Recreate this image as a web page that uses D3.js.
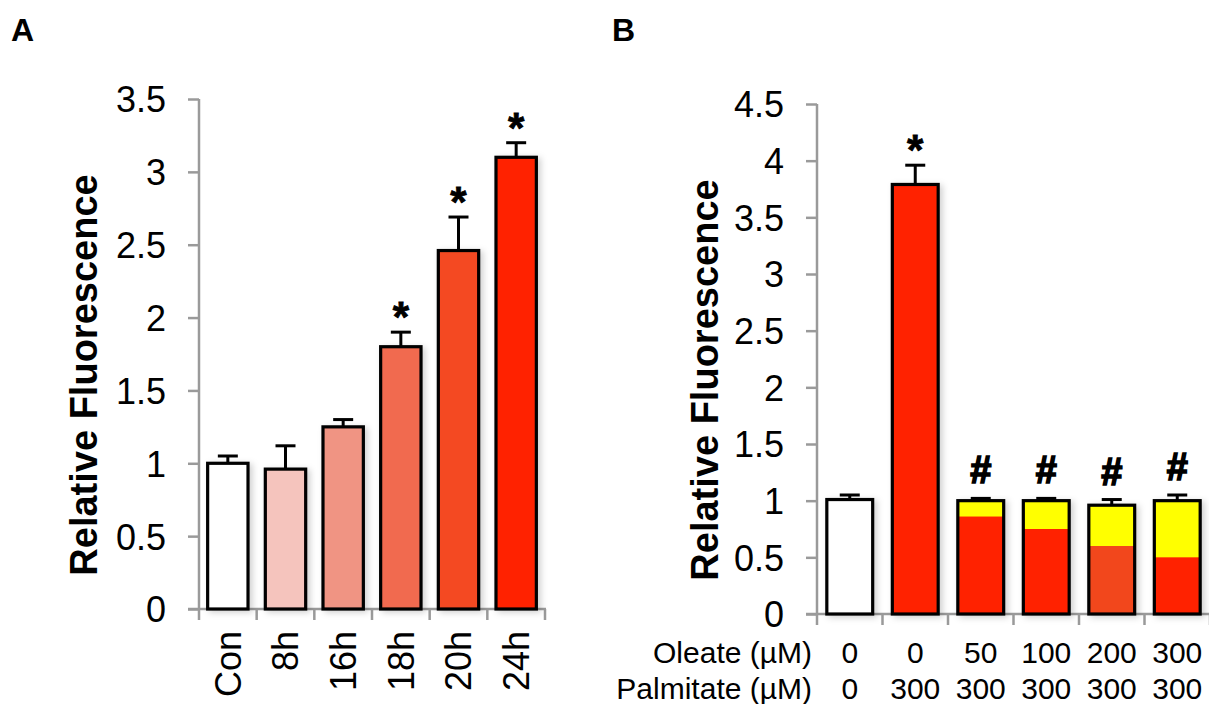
<!DOCTYPE html>
<html>
<head>
<meta charset="utf-8">
<script src="https://cdn.jsdelivr.net/npm/d3@7"></script>
<style>
  body { margin: 0; background: #fff; }
  text { font-family: "Liberation Sans", Arial, sans-serif; fill: #000; }
  .axis path, .axis line { stroke: #9a9a9a; stroke-width: 2.5; }
  .axis text { font-size: 36px; }
  .mark { stroke: #000; }
</style>
</head>
<body>
<svg id="chart"></svg>
<script>
// Panel A: time course
const timeLabels = ["Con", "8h", "16h", "18h", "20h", "24h"];
const timeMeans = [1.0, 0.96, 1.25, 1.80, 2.46, 3.10];
const timeErrors = [0.05, 0.16, 0.05, 0.10, 0.23, 0.10];
const timeMarks = ["", "", "", "*", "*", "*"];
const timeColors = ["#ffffff", "#f5c4bd", "#f09483", "#f16a4f", "#f44a21", "#ff2400"];
const timeTicks = [0, 0.5, 1, 1.5, 2, 2.5, 3, 3.5];

// Panel B: oleate / palmitate
const oleate = ["0", "0", "50", "100", "200", "300"];
const palmitate = ["0", "300", "300", "300", "300", "300"];
const fatMeans = [1.01, 3.79, 1.0, 1.0, 0.96, 1.0];
const fatErrors = [0.04, 0.17, 0.02, 0.02, 0.05, 0.05];
const fatRedPart = [0, 3.79, 0.86, 0.75, 0.60, 0.50];
const fatRedColors = ["#ff2200", "#ff2200", "#ff2200", "#ff2200", "#f2461f", "#ff2200"];
const fatMarks = ["", "*", "#", "#", "#", "#"];
const fatTicks = [0, 0.5, 1, 1.5, 2, 2.5, 3, 3.5, 4, 4.5];

const svg = d3.select("#chart").attr("width", 1209).attr("height", 704);

const defs = svg.append("defs");
defs.append("filter").attr("id", "shadow")
    .attr("x", "-20%").attr("y", "-5%").attr("width", "150%").attr("height", "115%")
    .append("feDropShadow")
    .attr("dx", 3).attr("dy", 2).attr("stdDeviation", 3)
    .attr("flood-color", "#000").attr("flood-opacity", 0.18);

// Panel letters
svg.append("text").attr("x", 11).attr("y", 41).attr("font-size", 32).attr("font-weight", "bold").text("A");
svg.append("text").attr("x", 612).attr("y", 41).attr("font-size", 32).attr("font-weight", "bold").text("B");

// Shared drawing of one panel's frame
function drawFrame(x, y, ticks, axisLeft, axisRight, labelX) {
    const y0 = y(0);
    const g = svg.append("g").attr("class", "axis")
        .attr("transform", `translate(${axisLeft}, 0)`)
        .call(d3.axisLeft(y).tickValues(ticks).tickSize(11).tickSizeOuter(0).tickPadding(22).tickFormat(d3.format("")));
    g.select(".domain").remove();
    g.append("line").attr("x1", 0).attr("x2", 0).attr("y1", y(ticks[ticks.length - 1])).attr("y2", y0);
    g.selectAll(".tick text").attr("dy", "0.36em");

    const xa = svg.append("g").attr("class", "axis");
    xa.append("line").attr("x1", axisLeft - 11).attr("x2", axisRight).attr("y1", y0).attr("y2", y0);
    const bounds = d3.range(x.domain().length + 1).map(i => axisLeft + i * x.step());
    xa.selectAll(".xt").data(bounds).enter().append("line")
        .attr("x1", d => d).attr("x2", d => d).attr("y1", y0).attr("y2", y0 + 11);

    svg.append("text")
        .attr("transform", `translate(${labelX}, ${(y(ticks[ticks.length - 1]) + y0) / 2 + 21}) rotate(-90)`)
        .attr("text-anchor", "middle")
        .attr("font-size", 38).attr("font-weight", "bold")
        .text("Relative Fluorescence");
}

// ---------- Panel A ----------
const xA = d3.scaleBand().domain(timeLabels).range([199, 545]).paddingInner(0.3).paddingOuter(0.15);
const yA = d3.scaleLinear().domain([0, 3.5]).range([609, 99]);
drawFrame(xA, yA, timeTicks, 199, 546, 97);

const barsA = svg.append("g");
barsA.selectAll("rect").data(timeLabels).enter().append("rect")
    .attr("x", d => xA(d))
    .attr("y", (d, i) => yA(timeMeans[i]))
    .attr("width", xA.bandwidth())
    .attr("height", (d, i) => yA(0) - yA(timeMeans[i]))
    .attr("fill", (d, i) => timeColors[i])
    .attr("stroke", "#000").attr("stroke-width", 3.2)
    .attr("filter", "url(#shadow)");

const errA = svg.append("g").attr("stroke", "#000").attr("stroke-width", 3);
timeLabels.forEach((d, i) => {
    const cx = xA(d) + xA.bandwidth() / 2;
    errA.append("line").attr("x1", cx).attr("x2", cx).attr("y1", yA(timeMeans[i])).attr("y2", yA(timeMeans[i] + timeErrors[i]));
    errA.append("line").attr("x1", cx - 10).attr("x2", cx + 10)
        .attr("y1", yA(timeMeans[i] + timeErrors[i])).attr("y2", yA(timeMeans[i] + timeErrors[i]));
    if (timeMarks[i]) {
        svg.append("text").attr("class", "mark").attr("stroke-width", 0.8)
            .attr("x", cx).attr("y", yA(timeMeans[i] + timeErrors[i]) - 1)
            .attr("text-anchor", "middle").attr("font-size", 42).attr("font-weight", "bold")
            .text(timeMarks[i]);
    }
});

svg.append("g").selectAll("text").data(timeLabels).enter().append("text")
    .attr("transform", d => `translate(${xA(d) + xA.bandwidth() / 2}, 631) rotate(-90)`)
    .attr("text-anchor", "end").attr("dy", "0.36em")
    .attr("font-size", 36)
    .text(d => d);

// ---------- Panel B ----------
const groups = oleate.map((d, i) => i);
const xB = d3.scaleBand().domain(groups).range([817, 1210]).paddingInner(0.3).paddingOuter(0.15);
const yB = d3.scaleLinear().domain([0, 4.5]).range([614, 104]);
drawFrame(xB, yB, fatTicks, 817, 1209, 718);

const barsB = svg.append("g");
groups.forEach(i => {
    const x0 = xB(i), w = xB.bandwidth();
    const g = barsB.append("g").attr("filter", "url(#shadow)");
    // background (white control or yellow oleate part)
    g.append("rect").attr("x", x0).attr("y", yB(fatMeans[i])).attr("width", w)
        .attr("height", yB(0) - yB(fatMeans[i]))
        .attr("fill", i === 0 ? "#ffffff" : "#ffff00");
    if (fatRedPart[i] > 0) {
        g.append("rect").attr("x", x0).attr("y", yB(fatRedPart[i])).attr("width", w)
            .attr("height", yB(0) - yB(fatRedPart[i]))
            .attr("fill", fatRedColors[i]);
    }
    g.append("rect").attr("x", x0).attr("y", yB(fatMeans[i])).attr("width", w)
        .attr("height", yB(0) - yB(fatMeans[i]))
        .attr("fill", "none").attr("stroke", "#000").attr("stroke-width", 3.2);
});

const errB = svg.append("g").attr("stroke", "#000").attr("stroke-width", 3);
groups.forEach(i => {
    const cx = xB(i) + xB.bandwidth() / 2;
    const top = yB(fatMeans[i] + fatErrors[i]);
    errB.append("line").attr("x1", cx).attr("x2", cx).attr("y1", yB(fatMeans[i])).attr("y2", top);
    errB.append("line").attr("x1", cx - 10).attr("x2", cx + 10).attr("y1", top).attr("y2", top);
    if (fatMarks[i]) {
        const isHash = fatMarks[i] === "#";
        svg.append("text").attr("class", "mark").attr("stroke-width", isHash ? 1.6 : 0.8)
            .attr("x", cx).attr("y", top - (isHash ? 15 : 1))
            .attr("text-anchor", "middle").attr("font-size", isHash ? 38 : 42).attr("font-weight", "bold")
            .text(fatMarks[i]);
    }
});

// Condition rows
svg.append("text").attr("x", 812).attr("y", 663).attr("text-anchor", "end").attr("font-size", 30).text("Oleate (µM)");
svg.append("text").attr("x", 812).attr("y", 699).attr("text-anchor", "end").attr("font-size", 30).text("Palmitate (µM)");
svg.append("g").selectAll("text").data(oleate).enter().append("text")
    .attr("x", (d, i) => xB(i) + xB.bandwidth() / 2).attr("y", 663)
    .attr("text-anchor", "middle").attr("font-size", 30).text(d => d);
svg.append("g").selectAll("text").data(palmitate).enter().append("text")
    .attr("x", (d, i) => xB(i) + xB.bandwidth() / 2).attr("y", 699)
    .attr("text-anchor", "middle").attr("font-size", 30).text(d => d);
</script>
</body>
</html>
